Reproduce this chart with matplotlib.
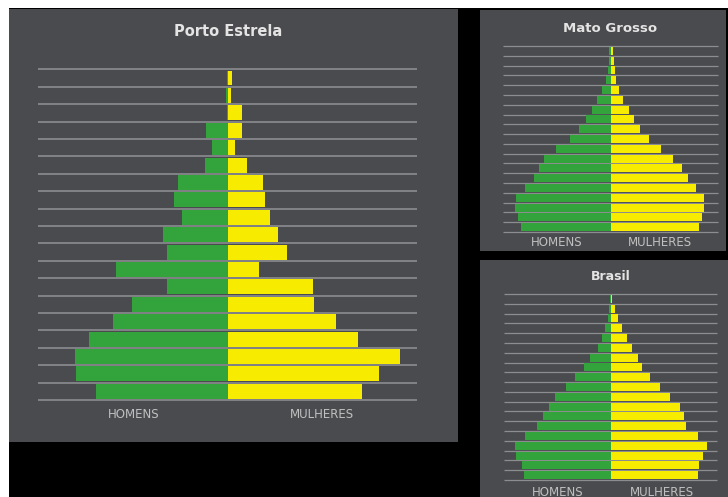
import numpy as np
import matplotlib
matplotlib.use("Agg")
import matplotlib.pyplot as plt
from matplotlib.patches import Rectangle

# ---- data (19 age groups, youngest first / bottom -> top) ----
age_groups = ["0-4", "5-9", "10-14", "15-19", "20-24", "25-29", "30-34", "35-39",
              "40-44", "45-49", "50-54", "55-59", "60-64", "65-69", "70-74",
              "75-79", "80-84", "85-89", "90+"]

porto_homens = [132, 152, 153, 139, 115, 96, 61, 112, 61, 65, 46, 54, 50, 23, 16, 22, 1, 2, 1]
porto_mulheres = [134, 151, 172, 130, 108, 86, 85, 31, 59, 50, 42, 37, 35, 19, 7, 14, 14, 3, 4]

mt_homens = [90, 93, 96, 95, 86, 77, 72, 67, 55, 41, 32, 25, 19, 14, 9, 5, 3, 2, 1.3]
mt_mulheres = [88, 91, 93, 93, 85, 77, 71, 62, 50, 38, 29, 23, 18, 12, 8, 5, 4.3, 3.7, 2.7]

br_homens = [87, 89, 95, 96, 86, 74, 68, 62, 56, 45, 36, 27, 21, 13, 9, 6, 3, 1.7, 0.7]
br_mulheres = [87, 88, 92, 96, 87, 75, 73, 69, 59, 49, 39, 31, 27, 21, 16, 11, 7, 4.3, 1.7]

titles = ["Porto Estrela", "Mato Grosso", "Brasil"]
label_h = "HOMENS"
label_m = "MULHERES"

# ---- styling ----
W, H = 728, 497
GREEN = "#33a43c"
YELLOW = "#f7eb00"
PANEL = "#4a4b4e"
GRID = "#8c8d8f"
TXT = "#e4e4e4"
LBL = "#c0c0c0"

fig = plt.figure(figsize=(W / 100, H / 100), dpi=100)
fig.patch.set_facecolor("white")


def rect_px(x0, y0, x1, y1, color, z=0):
    fig.add_artist(Rectangle((x0 / W, 1 - y1 / H), (x1 - x0) / W, (y1 - y0) / H,
                             transform=fig.transFigure, facecolor=color,
                             edgecolor="none", zorder=z))


def text_px(x, y, s, size, color, weight="normal"):
    fig.text(x / W, 1 - y / H, s, ha="center", va="center", fontsize=size,
             color=color, fontweight=weight, family="DejaVu Sans")


# background blocks
rect_px(9, 8, 728, 497, "black", z=-3)
rect_px(9, 9, 458, 442, PANEL, z=-2)
rect_px(480, 10, 726, 251, PANEL, z=-2)
rect_px(480, 260, 728, 497, PANEL, z=-2)


def pyramid(box, center, homens, mulheres, bar_h, lw):
    x0, y0, x1, y1 = box
    ax = fig.add_axes([x0 / W, 1 - y1 / H, (x1 - x0) / W, (y1 - y0) / H])
    ax.set_facecolor("none")
    n = len(age_groups)
    y = np.arange(n)
    xl = (x0 - center, x1 - center)
    ax.set_xlim(*xl)
    ax.set_ylim(-0.5, n - 0.5)
    ax.hlines(np.arange(n + 1) - 0.5, xl[0], xl[1], colors=GRID, linewidth=lw,
              zorder=1, clip_on=False)
    ax.barh(y, -np.array(homens), height=bar_h, color=GREEN, zorder=2)
    ax.barh(y, np.array(mulheres), height=bar_h, color=YELLOW, zorder=2)
    ax.axis("off")
    return ax


pyramid((38, 69.3, 417, 400), 228.3, porto_homens, porto_mulheres, 0.86, 1.2)
pyramid((503, 46, 718, 232), 610.7, mt_homens, mt_mulheres, 0.82, 0.9)
pyramid((504, 294, 717, 480), 610.7, br_homens, br_mulheres, 0.82, 0.9)

text_px(228, 32, titles[0], 10.5, TXT, "bold")
text_px(610, 28, titles[1], 9.5, TXT, "bold")
text_px(611, 277, titles[2], 9, TXT, "bold")

text_px(134, 414, label_h, 8.5, LBL)
text_px(322, 414, label_m, 8.5, LBL)
text_px(557, 242, label_h, 8.5, LBL)
text_px(660, 242, label_m, 8.5, LBL)
text_px(558, 492, label_h, 8.5, LBL)
text_px(662, 492, label_m, 8.5, LBL)

fig.savefig("out.png", dpi=100, facecolor=fig.get_facecolor())
